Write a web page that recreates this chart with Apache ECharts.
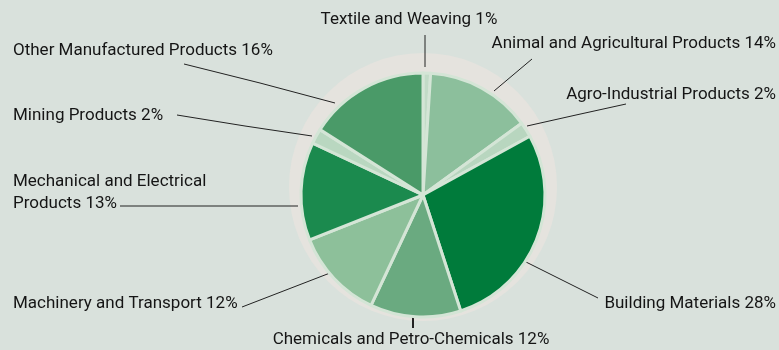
<!DOCTYPE html>
<html>
<head>
<meta charset="utf-8">
<script src="https://cdn.jsdelivr.net/npm/echarts@6/dist/echarts.min.js"></script>
<style>
  html, body { margin: 0; padding: 0; background: #d9e1dc; }
  #chart { width: 779px; height: 350px; }
</style>
</head>
<body>
<div id="chart"></div>
<script>
// data, clockwise from 12 o'clock
const categories = [
  'Textile and Weaving',
  'Animal and Agricultural Products',
  'Agro-Industrial Products',
  'Building Materials',
  'Chemicals and Petro-Chemicals',
  'Machinery and Transport',
  'Mechanical and Electrical\nProducts',
  'Mining Products',
  'Other Manufactured Products'
]
const shares = [1, 14, 2, 28, 12, 12, 13, 2, 16]

// slice colours
const sliceColors = ['#c2dbc7', '#8cbf9c', '#b8d6bf', '#007b3b', '#6aaa80', '#8dc09a', '#1b8a4e', '#b9d7c0', '#4a9a68']

// where each label sits and how its leader line runs (layout only)
const labelSpots = [
  { x: 409, y: 20, align: 'center', line: [[425, 67], [425, 50], [425, 35]] },
  { x: 776, y: 44, align: 'right', line: [[494, 91], [513, 75], [532, 59]] },
  { x: 776, y: 95, align: 'right', line: [[527, 126], [576, 115], [626, 104]] },
  { x: 776, y: 304, align: 'right', line: [[522, 260], [560, 279], [598, 298]] },
  { x: 411, y: 340, align: 'center', line: [[413, 313], [413, 320], [413, 328]], width: 2 },
  { x: 13, y: 304, align: 'left', line: [[330, 273], [286, 290], [242, 307]] },
  { x: 13, y: 193, align: 'left', line: [[298, 206], [210, 206], [120, 206]] },
  { x: 13, y: 116, align: 'left', line: [[312, 136], [245, 126], [177, 115]] },
  { x: 13, y: 51, align: 'left', line: [[335, 103], [260, 83], [184, 64]] }
]

const chart = echarts.init(document.getElementById('chart'))

const option = {
  backgroundColor: '#d9e1dc',
  animation: false,
  graphic: {
    elements: [
      { // pale halo behind the pie
        type: 'circle',
        z: 0,
        shape: { cx: 423, cy: 187, r: 134 },
        style: { fill: '#e5e3de' },
        silent: true
      }
    ]
  },
  series: [
    {
      type: 'pie',
      z: 2,
      center: [423, 195],
      radius: [0, 122],
      startAngle: 90,
      clockwise: true,
      avoidLabelOverlap: false,
      silent: true,
      itemStyle: {
        borderColor: '#d4e5d6',
        borderWidth: 3
      },
      label: {
        show: true,
        color: '#151515',
        fontFamily: 'Roboto',
        fontSize: 17,
        lineHeight: 22,
        formatter: p => p.name + ' ' + p.value + '%'
      },
      labelLine: {
        show: true,
        lineStyle: { color: '#222', width: 1 }
      },
      labelLayout: params => {
        const s = labelSpots[params.dataIndex]
        return {
          x: s.x,
          y: s.y,
          align: s.align,
          verticalAlign: 'middle',
          labelLinePoints: s.line
        }
      },
      data: categories.map((name, i) => ({
        name: name,
        value: shares[i],
        itemStyle: { color: sliceColors[i] },
        labelLine: { lineStyle: { color: '#222', width: labelSpots[i].width || 1 } }
      }))
    }
  ]
}

chart.setOption(option)
</script>
</body>
</html>
